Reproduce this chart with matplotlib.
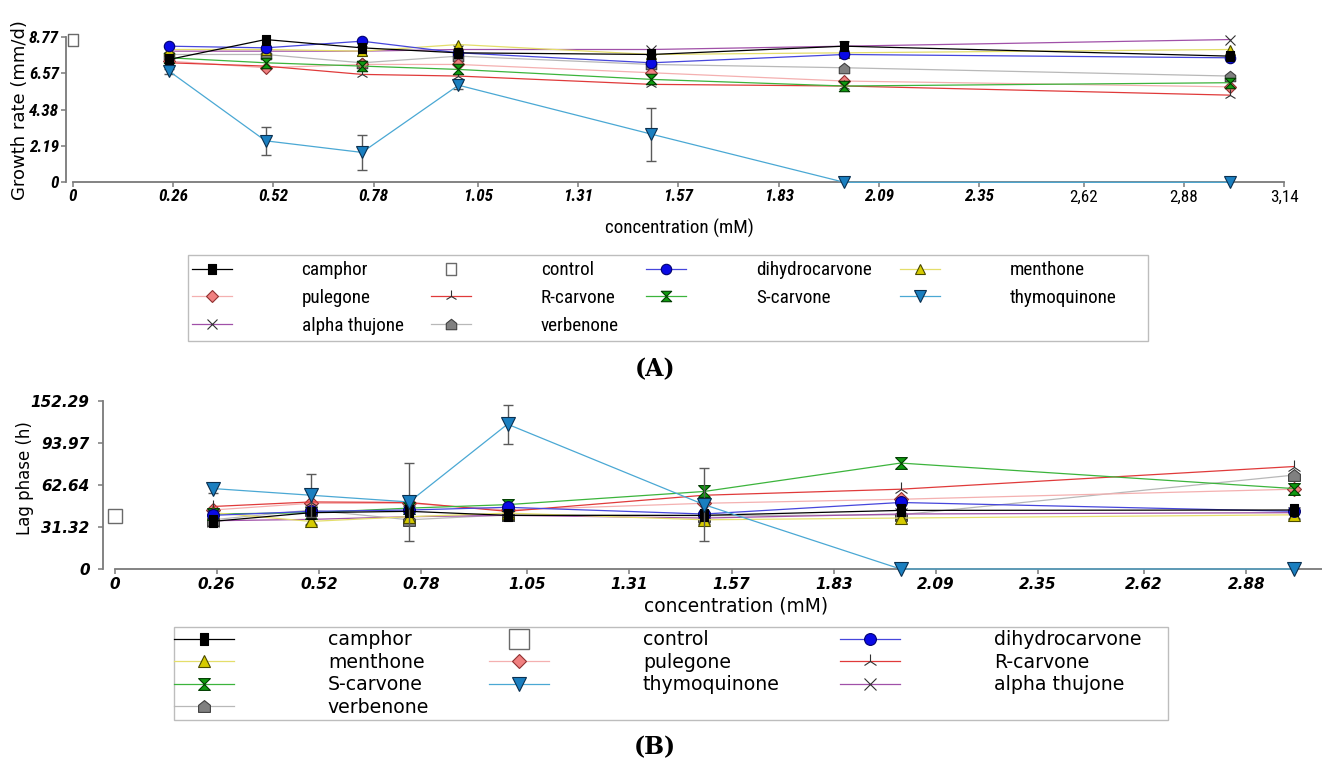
import numpy as np
import matplotlib
matplotlib.use("Agg")
import matplotlib.pyplot as plt
from matplotlib.lines import Line2D
from matplotlib.path import Path
from matplotlib.patches import Rectangle
from matplotlib.font_manager import FontProperties, fontManager

# ---------------- data ----------------
conc = [0.25, 0.5, 0.75, 1.0, 1.5, 2.0, 3.0]

# Growth rate (mm/d)
gr_camphor = [7.4, 8.6, 8.1, 7.8, 7.7, 8.2, 7.6]
gr_dihydrocarvone = [8.2, 8.1, 8.5, 7.8, 7.2, 7.7, 7.5]
gr_menthone = [8.0, 8.0, 7.9, 8.3, 7.7, 7.8, 8.0]
gr_pulegone = [7.3, 6.9, 7.1, 7.1, 6.6, 6.1, 5.75]
gr_r_carvone = [7.2, 7.0, 6.5, 6.4, 5.9, 5.8, 5.25]
gr_s_carvone = [7.5, 7.2, 7.0, 6.8, 6.2, 5.8, 6.0]
gr_thymoquinone = [6.7, 2.5, 1.8, 5.85, 2.9, 0.0, 0.0]
gr_thymoquinone_err = [0.15, 0.85, 1.05, 0.2, 1.6, 0.0, 0.0]
gr_alpha_thujone = [7.9, 7.9, 7.9, 8.0, 8.0, 8.2, 8.6]
gr_verbenone = [7.7, 7.7, 7.2, 7.6, 7.1, 6.9, 6.4]
gr_control = 8.55

# Lag phase (h)
lag_camphor = [35.5, 42, 43, 40, 40, 43.7, 44]
lag_dihydrocarvone = [40, 43, 44, 46, 41, 49.6, 43]
lag_menthone = [42, 35.5, 39, 41.7, 36.7, 38, 40.4]
lag_pulegone = [44, 49, 49, 44, 49, 52, 59.5]
lag_r_carvone = [46.6, 50, 49.6, 43, 55, 59.5, 76.4]
lag_s_carvone = [41, 42, 45.4, 48, 57.8, 79, 60]
lag_thymoquinone = [60, 55, 50, 108, 48, 0, 0]
lag_thymoquinone_err = [3, 16, 29, 14.5, 27, 0, 0]
lag_alpha_thujone = [36, 37, 39, 40, 38, 41, 42]
lag_verbenone = [36.7, 44, 36.7, 40.4, 39.7, 40.4, 70]
lag_control = 39.5

legend_order = ["camphor", "control", "dihydrocarvone", "menthone", "pulegone",
                "R-carvone", "S-carvone", "thymoquinone", "alpha thujone", "verbenone"]

top_yticks = [0, 2.19, 4.38, 6.57, 8.77]
top_yticklabels = ["0", "2.19", "4.38", "6.57", "8.77"]
top_xticklabels = ["0", "0.26", "0.52", "0.78", "1.05", "1.31", "1.57", "1.83",
                   "2.09", "2.35", "2,62", "2,88", "3,14"]
bot_yticks = [0, 31.32, 62.64, 93.97, 125.29]
bot_yticklabels = ["0", "31.32", "62.64", "93.97", "152.29"]
bot_xticklabels = ["0", "0.26", "0.52", "0.78", "1.05", "1.31", "1.57", "1.83",
                   "2.09", "2.35", "2.62", "2.88"]

growth = {"camphor": gr_camphor, "dihydrocarvone": gr_dihydrocarvone,
          "menthone": gr_menthone, "pulegone": gr_pulegone,
          "R-carvone": gr_r_carvone, "S-carvone": gr_s_carvone,
          "alpha thujone": gr_alpha_thujone, "verbenone": gr_verbenone,
          "thymoquinone": gr_thymoquinone}
lag = {"camphor": lag_camphor, "dihydrocarvone": lag_dihydrocarvone,
       "menthone": lag_menthone, "pulegone": lag_pulegone,
       "R-carvone": lag_r_carvone, "S-carvone": lag_s_carvone,
       "alpha thujone": lag_alpha_thujone, "verbenone": lag_verbenone,
       "thymoquinone": lag_thymoquinone}

# ---------------- fonts ----------------
available = {f.name for f in fontManager.ttflist}
narrow_candidates = [("Liberation Sans Narrow", 1.0), ("Arial Narrow", 1.0),
                     ("Roboto Condensed", 0.95), ("DejaVu Sans Condensed", 0.8)]
NARROW, NSCALE = ["Liberation Sans", "DejaVu Sans"], 0.8
for name, sc in narrow_candidates:
    if name in available:
        NARROW, NSCALE = [name, "DejaVu Sans"], sc
        break
SANS = ["DejaVu Sans"]

# ---------------- styles ----------------
hourglass = Path([(-1, 1), (1, 1), (-1, -1), (1, -1), (-1, 1)],
                 [Path.MOVETO, Path.LINETO, Path.LINETO, Path.LINETO, Path.CLOSEPOLY])
house = Path([(-1, -1), (1, -1), (1, 0.2), (0, 1), (-1, 0.2), (-1, -1)],
             [Path.MOVETO, Path.LINETO, Path.LINETO, Path.LINETO, Path.LINETO, Path.CLOSEPOLY])
tallrect = Path([(-0.75, -1), (0.75, -1), (0.75, 1), (-0.75, 1), (-0.75, -1)],
                [Path.MOVETO, Path.LINETO, Path.LINETO, Path.LINETO, Path.CLOSEPOLY])

styles = {
    "camphor": dict(color="#000000", marker=tallrect, mfc="#000000", mec="#000000", s=1.0),
    "dihydrocarvone": dict(color="#4646dc", marker="o", mfc="#0a0ae6", mec="#000070", s=1.0),
    "menthone": dict(color="#e4de6a", marker="^", mfc="#d6cb00", mec="#4a4a00", s=1.05),
    "pulegone": dict(color="#f4b0b0", marker="D", mfc="#f08080", mec="#903030", s=0.8),
    "R-carvone": dict(color="#e03a3a", marker="2", mfc="#303030", mec="#303030", s=1.2),
    "S-carvone": dict(color="#3cb43c", marker=hourglass, mfc="#109a10", mec="#003c00", s=1.0),
    "thymoquinone": dict(color="#4aa8d4", marker="v", mfc="#1a7fc0", mec="#0a3050", s=1.15),
    "alpha thujone": dict(color="#a050a8", marker="x", mfc="#303030", mec="#303030", s=1.0),
    "verbenone": dict(color="#b8b8b8", marker=house, mfc="#808080", mec="#404040", s=1.0),
}
draw_order = ["verbenone", "alpha thujone", "pulegone", "R-carvone", "S-carvone",
              "menthone", "dihydrocarvone", "camphor", "thymoquinone"]

W, H = 1322, 767
fig = plt.figure(figsize=(W / 100, H / 100), dpi=100)
fig.patch.set_facecolor("white")


def ax_rect(left_px, top_px, right_px, bottom_px):
    return [left_px / W, 1 - bottom_px / H, (right_px - left_px) / W, (bottom_px - top_px) / H]


def draw_panel(ax, data, err, control, ms, control_marker, control_ms):
    handles = {}
    for name in draw_order:
        st = styles[name]
        ln, = ax.plot(conc, data[name], color=st["color"], lw=0.9,
                      marker=st["marker"], ms=ms * st["s"], mfc=st["mfc"],
                      mec=st["mec"], mew=0.8, clip_on=False,
                      zorder=5 if name == "thymoquinone" else 3)
        handles[name] = ln
    e = np.array(err, dtype=float)
    m = e > 0
    ax.errorbar(np.array(conc)[m], np.array(data["thymoquinone"])[m], yerr=e[m],
                fmt="none", ecolor="#5a5a5a", elinewidth=1.0, capsize=3.5,
                capthick=1.0, zorder=4, clip_on=False)
    c, = ax.plot([0], [control], ls="none", marker=control_marker, ms=control_ms,
                 mfc="white", mec="#6a6a6a", mew=1.0, clip_on=False, zorder=3)
    handles["control"] = c
    return handles


def style_axes(ax):
    for s in ["top", "right"]:
        ax.spines[s].set_visible(False)
    for s in ["left", "bottom"]:
        ax.spines[s].set_color("#7a7a7a")
        ax.spines[s].set_linewidth(1.3)
    ax.set_facecolor("none")


def colmajor(items, ncol):
    n = len(items)
    nrows, nlarge = divmod(n, ncol)
    rows_per_col = [nrows + 1] * nlarge + [nrows] * (ncol - nlarge)
    out = []
    for c, nr in enumerate(rows_per_col):
        for r in range(nr):
            out.append(items[r * ncol + c])
    return out


def legend_frame(left_px, top_px, right_px, bottom_px):
    fig.add_artist(Rectangle((left_px / W, 1 - bottom_px / H),
                             (right_px - left_px) / W, (bottom_px - top_px) / H,
                             transform=fig.transFigure, fill=False,
                             edgecolor="#bdbdbd", lw=1.0, zorder=1))


# ================= panel A =================
axA = fig.add_axes(ax_rect(66, 30, 1292, 182.3))
hA = draw_panel(axA, growth, gr_thymoquinone_err, gr_control, 7.5, tallrect, 9)
style_axes(axA)
axA.set_xlim(-0.017, 3.16)
axA.set_ylim(0, 152.3 / 16.6)
top_xticks = [float(s.replace(",", ".")) for s in top_xticklabels]
axA.spines["bottom"].set_bounds(0, top_xticks[-1])
axA.spines["left"].set_bounds(0, top_yticks[-1])
axA.set_xticks(top_xticks, top_xticklabels)
axA.set_yticks(top_yticks, top_yticklabels)
axA.tick_params(direction="out", length=3.6, width=1.1, color="#7a7a7a", pad=1.5)
fp_bi = FontProperties(family=NARROW, weight="bold", style="italic", size=13 * NSCALE)
fp_reg = FontProperties(family=NARROW, weight="normal", style="normal", size=13 * NSCALE)
for lab in axA.get_xticklabels():
    lab.set_fontproperties(fp_reg if "," in lab.get_text() else fp_bi)
for lab in axA.get_yticklabels():
    lab.set_fontproperties(fp_bi)
axA.set_xlabel("concentration (mM)", family=NARROW, fontsize=14.4 * NSCALE,
               va="center", ha="center")
axA.xaxis.set_label_coords(0.50, -0.30)
axA.set_ylabel("Growth rate (mm/d)", family=SANS, fontsize=13, va="center", ha="center")
axA.yaxis.set_label_coords(-0.0375, 0.475)

itemsA = colmajor(legend_order, 4)
fsA = 14.5 * NSCALE
emA = fsA * 100 / 72
legend_frame(188, 255, 1148, 341)
fig.legend([hA[n] for n in itemsA], itemsA, ncol=4, mode="expand", loc="center",
           bbox_to_anchor=(183 / W, 1 - 341 / H, (1125 - 183) / W, 86 / H),
           prop=FontProperties(family=NARROW, size=fsA),
           handlelength=40 / emA, handletextpad=70 / emA, labelspacing=0.5,
           borderpad=0.45, columnspacing=1.0, borderaxespad=0, frameon=False)
fig.text(655 / W, 1 - 369 / H, "(A)", ha="center", va="center",
         family=["DejaVu Serif"], fontweight="bold", fontsize=17)

# ================= panel B =================
axB = fig.add_axes(ax_rect(103, 397, W, 569))
hB = draw_panel(axB, lag, lag_thymoquinone_err, lag_control, 8.5, "s", 9.5)
style_axes(axB)
xminB = -11.5 / 393
axB.set_xlim(xminB, xminB + (W - 103) / 393)
axB.set_ylim(0, 172 / 1.341)
bot_xticks = [float(s) for s in bot_xticklabels]
axB.spines["bottom"].set_bounds(0, xminB + (W - 103) / 393)
axB.spines["left"].set_bounds(0, bot_yticks[-1])
axB.set_xticks(bot_xticks, bot_xticklabels)
axB.set_yticks(bot_yticks, bot_yticklabels)
axB.tick_params(direction="out", length=3.6, width=1.1, color="#7a7a7a")
axB.tick_params(axis="x", pad=2)
axB.tick_params(axis="y", pad=6)
fp_bi2 = FontProperties(family=SANS, weight="bold", style="oblique", size=11)
for lab in axB.get_xticklabels() + axB.get_yticklabels():
    lab.set_fontproperties(fp_bi2)
axB.set_xlabel("concentration (mM)", family=SANS, fontsize=13.4, va="center", ha="center")
axB.xaxis.set_label_coords(0.519, -0.215)
axB.set_ylabel("Lag phase (h)", family=SANS, fontsize=12, va="center", ha="center")
axB.yaxis.set_label_coords(-0.064, 0.529)

ctrl_proxy = Line2D([], [], ls="none", marker="s", ms=15, mfc="white", mec="#6a6a6a", mew=1.0)
handlesB = dict(hB)
handlesB["control"] = ctrl_proxy
itemsB = colmajor(legend_order, 3)
fsB = 13.6
emB = fsB * 100 / 72
legend_frame(174, 627, 1168, 720)
fig.legend([handlesB[n] for n in itemsB], itemsB, ncol=3, mode="expand", loc="center",
           bbox_to_anchor=(170 / W, 1 - 720 / H, (1145 - 170) / W, 93 / H),
           prop=FontProperties(family=SANS, size=fsB),
           handlelength=60 / emB, handletextpad=94 / emB, labelspacing=0.18,
           borderpad=0.2, columnspacing=1.0, borderaxespad=0, frameon=False)
fig.text(655 / W, 1 - 747 / H, "(B)", ha="center", va="center",
         family=["DejaVu Serif"], fontweight="bold", fontsize=17)

fig.savefig("out.png", dpi=100, facecolor="white")
